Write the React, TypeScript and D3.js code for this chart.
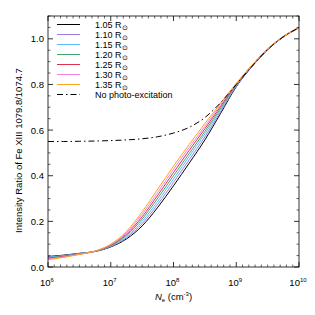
import React from 'react';
import * as d3 from 'd3';

// log10 of electron density (cm^-3)
const logNe = [6, 6.25, 6.5, 6.75, 7, 7.25, 7.5, 7.75, 8, 8.25, 8.5, 8.75, 9, 9.25, 9.5, 9.75, 10];

const r105 = [0.046, 0.052, 0.060, 0.068, 0.088, 0.123, 0.180, 0.262, 0.356, 0.455, 0.557, 0.673, 0.790, 0.878, 0.952, 1.008, 1.048];
const r110 = [0.044, 0.050, 0.059, 0.068, 0.090, 0.128, 0.190, 0.275, 0.371, 0.470, 0.570, 0.681, 0.793, 0.880, 0.953, 1.009, 1.048];
const r115 = [0.042, 0.049, 0.058, 0.069, 0.092, 0.133, 0.200, 0.288, 0.386, 0.484, 0.583, 0.689, 0.795, 0.881, 0.954, 1.009, 1.049];
const r120 = [0.040, 0.047, 0.057, 0.069, 0.094, 0.139, 0.210, 0.302, 0.400, 0.497, 0.594, 0.696, 0.798, 0.882, 0.954, 1.009, 1.049];
const r125 = [0.037, 0.046, 0.056, 0.069, 0.096, 0.144, 0.220, 0.315, 0.414, 0.511, 0.606, 0.704, 0.800, 0.883, 0.955, 1.010, 1.049];
const r130 = [0.035, 0.044, 0.056, 0.070, 0.098, 0.150, 0.231, 0.328, 0.428, 0.524, 0.617, 0.711, 0.803, 0.884, 0.955, 1.010, 1.050];
const r135 = [0.032, 0.042, 0.055, 0.070, 0.100, 0.156, 0.242, 0.342, 0.442, 0.537, 0.629, 0.718, 0.805, 0.885, 0.956, 1.010, 1.050];
const noPhoto = [0.550, 0.550, 0.551, 0.552, 0.554, 0.557, 0.562, 0.571, 0.587, 0.612, 0.655, 0.720, 0.800, 0.880, 0.953, 1.009, 1.049];

const radii = ['1.05', '1.10', '1.15', '1.20', '1.25', '1.30', '1.35'];
const seriesList = [r105, r110, r115, r120, r125, r130, r135];
const colors = ['#000000', '#9b7fe0', '#5cb8ff', '#3fa86b', '#e0304f', '#f283e8', '#ffa41c'];

const yTicks = [0, 0.2, 0.4, 0.6, 0.8, 1.0];
const xDecades = [6, 7, 8, 9, 10];

const W = 315;
const H = 315;
const m = { left: 48, right: 16, top: 16, bottom: 48 };
const FONT = '"Liberation Sans", Arial, Helvetica, sans-serif';

export default function App() {
  const x = d3.scaleLog().domain([1e6, 1e10]).range([m.left, W - m.right]);
  const y = d3.scaleLinear().domain([0, 1.1]).range([H - m.bottom, m.top]);
  const x0 = m.left, x1 = W - m.right, y0 = H - m.bottom, y1 = m.top;

  const line = d3.line<number>()
    .x((_, i) => x(Math.pow(10, logNe[i])))
    .y(d => y(d))
    .curve(d3.curveMonotoneX);

  const minorX: number[] = [];
  for (let d = 6; d < 10; d++) for (let k = 1; k < 10; k++) minorX.push(Math.pow(10, d + k / 10));
  const minorY = d3.range(0, 1.1001, 0.05).filter(v => Math.abs(Math.round(v / 0.2) * 0.2 - v) > 1e-6);

  const legendY = (i: number) => 24.5 + i * 10;

  return (
    <svg width={W} height={H} style={{ position: 'absolute', left: 0, top: 0 }} fontFamily={FONT}>
      <rect width={W} height={H} fill="#fff" />
      {seriesList.map((s, i) => (
        <path key={i} d={line(s) || ''} fill="none" stroke={colors[i]} strokeWidth={1} />
      ))}
      <path d={line(noPhoto) || ''} fill="none" stroke="#000" strokeWidth={1} strokeDasharray="6,3,1.5,3" />

      {/* frame */}
      <rect x={x0} y={y1} width={x1 - x0} height={y0 - y1} fill="none" stroke="#000" strokeWidth={0.8} />
      {/* x ticks */}
      {xDecades.map(d => {
        const px = x(Math.pow(10, d));
        return (
          <g key={d}>
            <line x1={px} x2={px} y1={y0} y2={y0 - 5} stroke="#000" strokeWidth={0.8} />
            <line x1={px} x2={px} y1={y1} y2={y1 + 5} stroke="#000" strokeWidth={0.8} />
            <text x={px - 1} y={286} fontSize={9.5} textAnchor="middle">10<tspan fontSize={6} dy={-4}>{d}</tspan></text>
          </g>
        );
      })}
      {minorX.map((v, i) => (
        <g key={i}>
          <line x1={x(v)} x2={x(v)} y1={y0} y2={y0 - 2.5} stroke="#000" strokeWidth={0.6} />
          <line x1={x(v)} x2={x(v)} y1={y1} y2={y1 + 2.5} stroke="#000" strokeWidth={0.6} />
        </g>
      ))}
      {/* y ticks */}
      {yTicks.map(v => (
        <g key={v}>
          <line x1={x0} x2={x0 + 5} y1={y(v)} y2={y(v)} stroke="#000" strokeWidth={0.8} />
          <line x1={x1} x2={x1 - 5} y1={y(v)} y2={y(v)} stroke="#000" strokeWidth={0.8} />
          <text x={44} y={y(v) + 3.5} fontSize={9.5} textAnchor="end">{v.toFixed(1)}</text>
        </g>
      ))}
      {minorY.map((v, i) => (
        <g key={i}>
          <line x1={x0} x2={x0 + 2.5} y1={y(v)} y2={y(v)} stroke="#000" strokeWidth={0.6} />
          <line x1={x1} x2={x1 - 2.5} y1={y(v)} y2={y(v)} stroke="#000" strokeWidth={0.6} />
        </g>
      ))}

      {/* axis titles */}
      <text x={(x0 + x1) / 2} y={300} fontSize={9.5} textAnchor="middle">
        <tspan fontStyle="italic">N</tspan><tspan fontSize={6} dy={2}>e</tspan>
        <tspan dy={-2}> (cm</tspan><tspan fontSize={6} dy={-4}>-3</tspan><tspan dy={4}>)</tspan>
      </text>
      <text transform={`translate(22,${(y0 + y1) / 2 + 9}) rotate(-90)`} fontSize={9.5} textAnchor="middle">
        Intensity Ratio of Fe XIII 1079.8/1074.7
      </text>

      {/* legend */}
      {radii.map((r, i) => (
        <g key={r}>
          <line x1={57} x2={80} y1={legendY(i)} y2={legendY(i)} stroke={colors[i]} strokeWidth={1} />
          <text x={95} y={legendY(i) + 3} fontSize={9}>
            {r} R<tspan fontSize={6.5} dy={2}>⊙</tspan>
          </text>
        </g>
      ))}
      <line x1={57} x2={80} y1={legendY(7)} y2={legendY(7)} stroke="#000" strokeWidth={1} strokeDasharray="6,3,1.5,3" />
      <text x={95} y={legendY(7) + 3} fontSize={9}>No photo-excitation</text>
    </svg>
  );
}
